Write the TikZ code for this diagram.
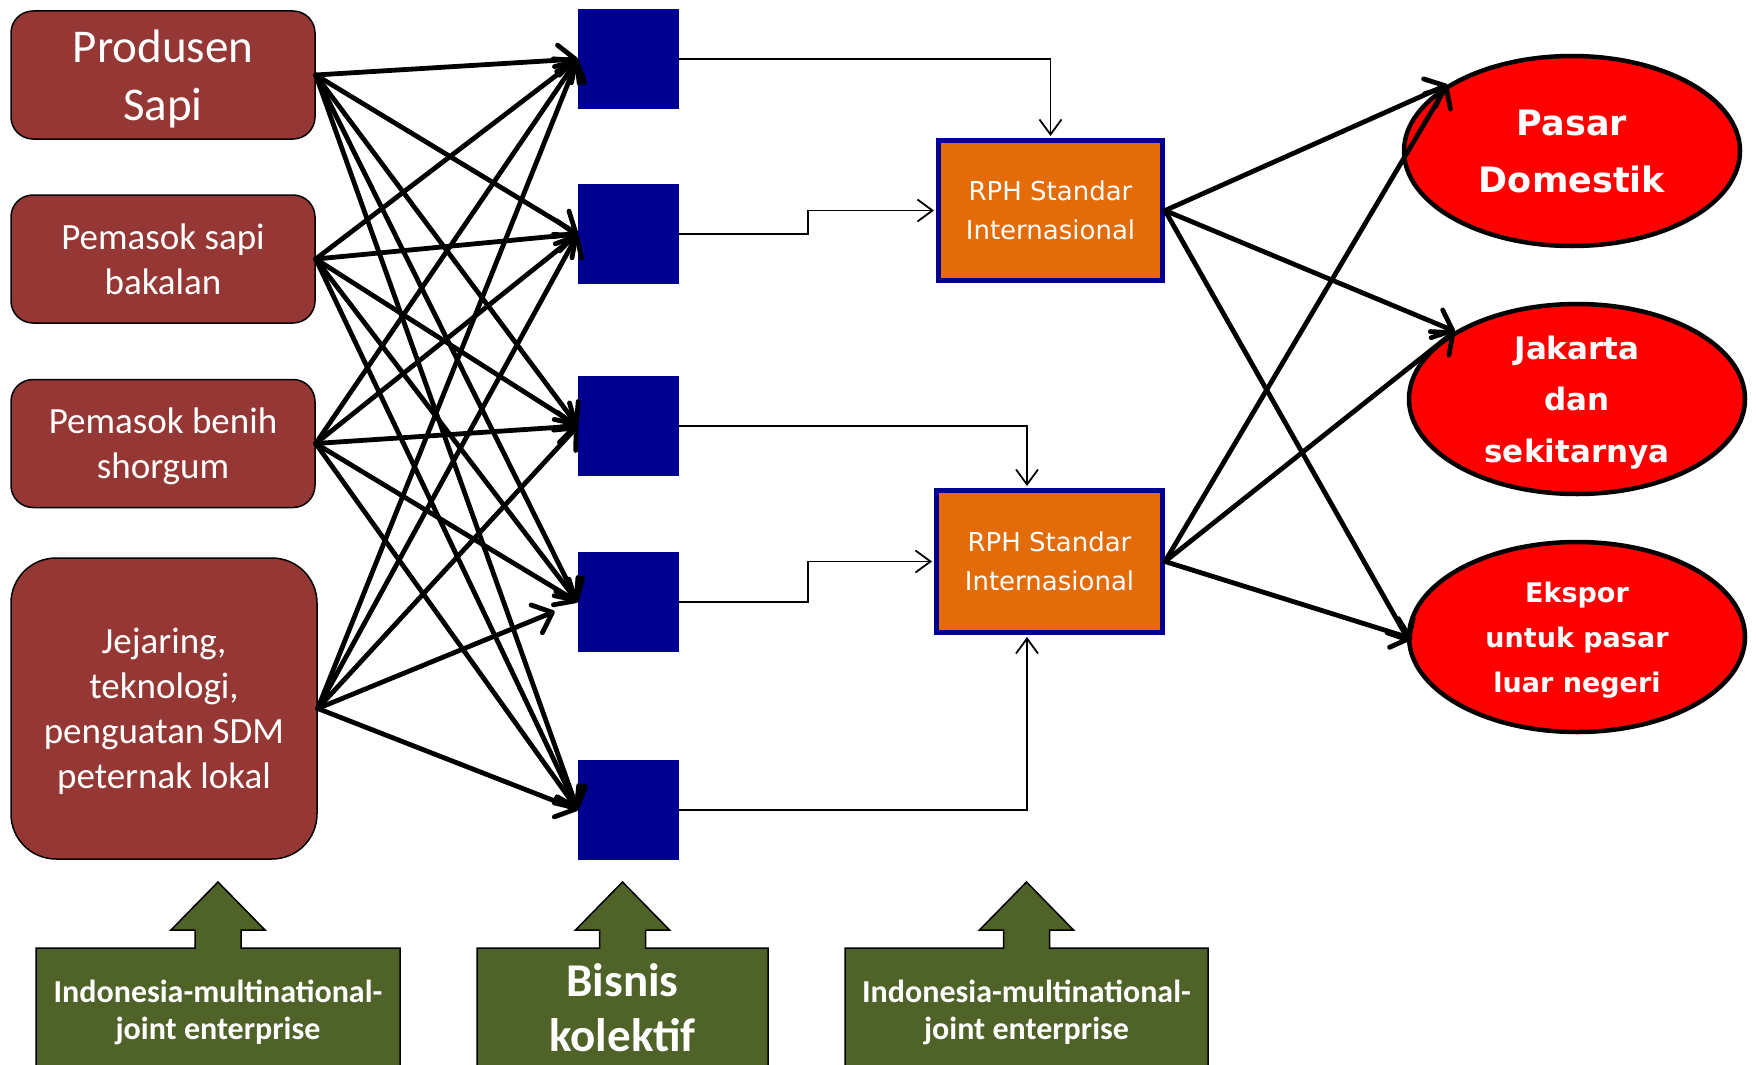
\documentclass[tikz,border=0pt]{standalone}
\usepackage{fontspec}
\setmainfont{Carlito}
\newfontfamily\vfont{DejaVu Sans}
\usetikzlibrary{arrows.meta,shapes.geometric}
\definecolor{boxred}{HTML}{953735}
\definecolor{navyblk}{RGB}{0,0,144}
\definecolor{rphorange}{HTML}{E36C09}
\definecolor{olivegr}{HTML}{4F6228}
\newcommand\gbox[2]{\filldraw[gshape] (#1-#2,1085) -- (#1-#2,948) -- (#1-23,948) -- (#1-23,930) -- (#1-47,930) -- (#1,882) -- (#1+47,930) -- (#1+23,930) -- (#1+23,948) -- (#1+#2,948) -- (#1+#2,1085) -- cycle;}
\newcommand\nodp[1]{\raisebox{0pt}[\height][0pt]{#1}}
\begin{document}
\begin{tikzpicture}[x=1pt,y=-1pt,
  src/.style={draw=black,line width=1.5pt,fill=boxred,rounded corners=22pt,minimum width=304pt,minimum height=128pt,text=white,align=center,inner sep=0pt},
  blk/.style={fill=navyblk,minimum width=101pt,minimum height=100pt,inner sep=0pt},
  rph/.style={draw=navyblk,line width=5pt,fill=rphorange,text=white,align=center,inner sep=0pt,font=\vfont\fontsize{26}{39}\selectfont},
  mkt/.style={ellipse,draw=black,line width=4.5pt,fill=red,text=white,align=center,minimum width=336pt,minimum height=190pt,inner sep=0pt},
  fan/.style={line width=4.8pt,line cap=round,-{Straight Barb[length=17pt,width=30pt,round]}},
  elbow/.style={line width=1.8pt,-{Straight Barb[length=15pt,width=22pt]},shorten >=2pt},
  gshape/.style={draw=black,line width=1.5pt,fill=olivegr},
  gtext/.style={text=white,align=center,inner sep=0pt}
]
\useasboundingbox (0,0) rectangle (1756,1065);
\clip (0,0) rectangle (1756,1065);

% left source boxes
\node[src,font=\fontsize{47}{58}\selectfont] (p1) at (163,75) {Produsen\\\nodp{Sapi}};
\node[src,font=\fontsize{37}{45}\selectfont] (p2) at (163,259) {Pemasok sapi\\bakalan};
\node[src,font=\fontsize{37}{45}\selectfont] (p3) at (163,443.5) {Pemasok benih\\\nodp{shorgum}};
\node[src,font=\fontsize{37}{45}\selectfont,minimum width=306pt,minimum height=301pt,rounded corners=45pt] (p4) at (164,708.5) {Jejaring,\\teknologi,\\penguatan SDM\\\nodp{peternak lokal}};

% blue squares
\node[blk] (b1) at (628.5,59) {};
\node[blk] (b2) at (628.5,234) {};
\node[blk] (b3) at (628.5,426) {};
\node[blk] (b4) at (628.5,602) {};
\node[blk] (b5) at (628.5,810) {};

% RPH boxes
\node[rph,minimum width=224pt,minimum height=140pt] (r1) at (1050.5,210.5) {RPH Standar\\Internasional};
\node[rph,minimum width=226pt,minimum height=142pt] (r2) at (1049.5,561.5) {RPH Standar\\Internasional};

% markets
\node[mkt,font=\vfont\bfseries\fontsize{35}{57}\selectfont] (m1) at (1572,151) {Pasar\\Domestik};
\node[mkt,font=\vfont\bfseries\fontsize{31}{51.5}\selectfont] (m2) at (1577,399) {Jakarta\\dan\\\nodp{sekitarnya}};
\node[mkt,font=\vfont\bfseries\fontsize{27}{45}\selectfont] (m3) at (1577,637) {Ekspor\\untuk pasar\\\nodp{luar negeri}};

% fan arrows left -> blue
\foreach \s in {p1,p2,p3,p4}{
  \foreach \t in {b1,b2,b3,b5}{
    \draw[fan] (\s.east) -- (\t.west);
  }
}
\draw[fan] (p1.east) -- (b4.west);
\draw[fan] (p2.east) -- (b4.west);
\draw[fan] (p3.east) -- (b4.west);
\draw[fan,shorten >=25pt] (p4.east) -- (b4.west);

% blue -> RPH
\draw[elbow] (b1.east) -| (r1.north);
\draw[elbow] (b2.east) -- ++(129,0) |- (r1.west);
\draw[elbow] (b3.east) -| ([xshift=-22.5pt]r2.north);
\draw[elbow] (b4.east) -- ++(129,0) |- (r2.west);
\draw[elbow] (b5.east) -| ([xshift=-22.5pt]r2.south);

% RPH -> markets
\draw[fan] (r1.east) -- (m1.152);
\draw[fan] (r1.east) -- (m2.151);
\draw[fan,shorten >=-6pt] (r1.east) -- (m3.west);
\draw[fan] (r2.east) -- (m1.152);
\draw[fan] (r2.east) -- (m2.151);
\draw[fan,shorten >=-6pt] (r2.east) -- (m3.west);

% green up-arrow boxes
\gbox{218}{182}
\gbox{622.5}{145.5}
\gbox{1026.5}{181.5}
\node[gtext,font=\bfseries\fontsize{32}{37}\selectfont] (g1) at (218,1010) {Indonesia-multinational-\\\nodp{joint enterprise}};
\node[gtext,font=\bfseries\fontsize{47}{55}\selectfont] (g2) at (622.5,1008) {Bisnis\\kolektif};
\node[gtext,font=\bfseries\fontsize{32}{37}\selectfont] (g3) at (1026.5,1010) {Indonesia-multinational-\\\nodp{joint enterprise}};
\end{tikzpicture}
\end{document}
